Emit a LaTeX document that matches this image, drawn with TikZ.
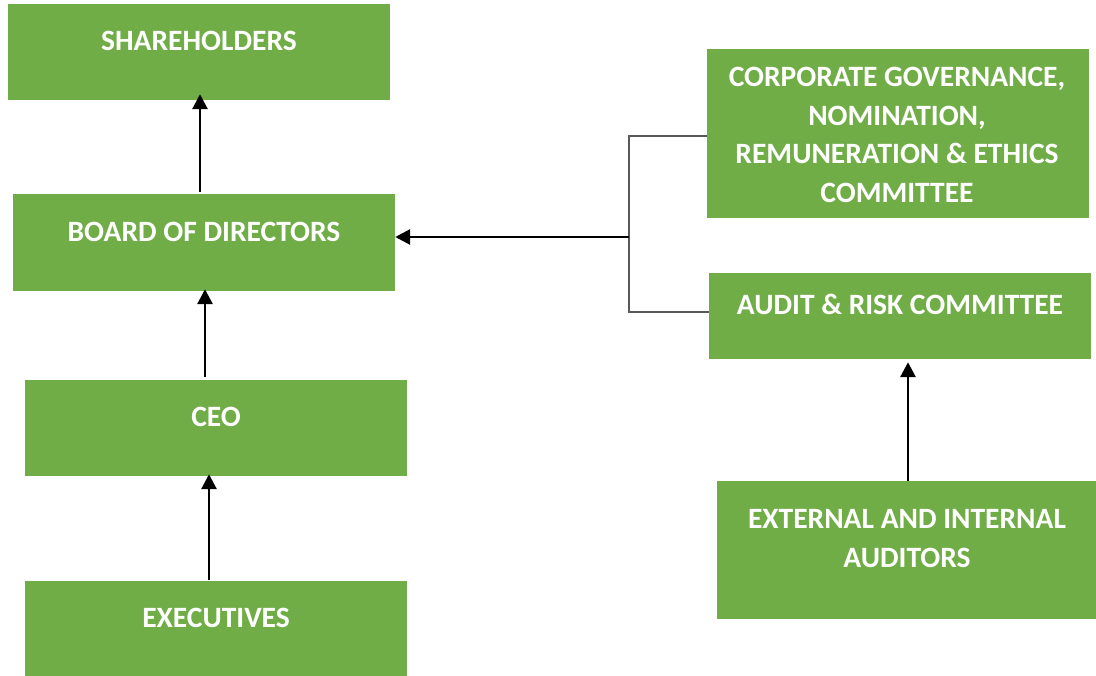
\documentclass[tikz,border=0pt]{standalone}
\usepackage{fontspec}
\setmainfont{Carlito}
\usetikzlibrary{arrows.meta}
\definecolor{boxgreen}{HTML}{70AD47}
\definecolor{linegray}{HTML}{595959}
\tikzset{
  box/.style={fill=boxgreen, draw=none, inner sep=0pt},
  txt/.style={text=white, font=\bfseries\fontsize{29.5}{38.7}\selectfont, align=center, inner sep=0pt},
  arr/.style={draw=black, line width=2.9pt, -{Triangle[length=15pt,width=15pt]}},
  brk/.style={draw=linegray, line width=1.4pt}
}
\begin{document}
\begin{tikzpicture}[x=1pt,y=-1pt]
			\useasboundingbox (0,0) rectangle (1096,676);
			% left column
			\node[box, minimum width=382pt, minimum height=96pt] (sh) at (199,52) {};
			\node[box, minimum width=382pt, minimum height=97pt] (bod) at (204,242.5) {};
			\node[box, minimum width=382pt, minimum height=96pt] (ceo) at (216,428) {};
			\node[box, minimum width=382pt, minimum height=95pt] (exe) at (216,628.5) {};
			% right column
			\node[box, minimum width=382pt, minimum height=169pt] (cg) at (898,133.5) {};
			\node[box, minimum width=382pt, minimum height=86pt] (ar) at (900,316) {};
			\node[box, minimum width=380pt, minimum height=138pt] (aud) at (907,550) {};
			% texts
			\node[txt] (sh-t) at (199,41) {SHAREHOLDERS};
			\node[txt] (bod-t) at (204,232) {BOARD OF DIRECTORS};
			\node[txt] (ceo-t) at (216,416.5) {CEO};
			\node[txt] (exe-t) at (216,617.5) {EXECUTIVES};
			\node[txt] (cg-t) at (897,135) {CORPORATE GOVERNANCE,\\NOMINATION,\\REMUNERATION \& ETHICS\\COMMITTEE};
			\node[txt] (ar-t) at (900,304) {AUDIT \& RISK COMMITTEE};
			\node[txt] (aud-t) at (907,538.5) {EXTERNAL AND INTERNAL\\AUDITORS};
			% arrows
			\draw[arr] ([xshift=-4pt,yshift=2pt]bod.north) -- ([xshift=1pt,yshift=6pt]sh.south);
			\draw[arr] ([xshift=-11pt,yshift=3pt]ceo.north) -- ([xshift=1pt,yshift=2pt]bod.south);
			\draw[arr] ([xshift=-7pt,yshift=1pt]exe.north) -- ([xshift=-7pt,yshift=2pt]ceo.south);
			\draw[arr] ([xshift=1pt]aud.north) -- ([xshift=8pt,yshift=-3pt]ar.south);
			% committees to board
			\coordinate (jn) at (629,237);
			\draw[brk] ([yshift=-2.5pt]cg.west) -| (jn) |- ([yshift=4pt]ar.west);
			\draw[arr] (jn) -- (bod.east |- jn);
		\end{tikzpicture}
\end{document}
